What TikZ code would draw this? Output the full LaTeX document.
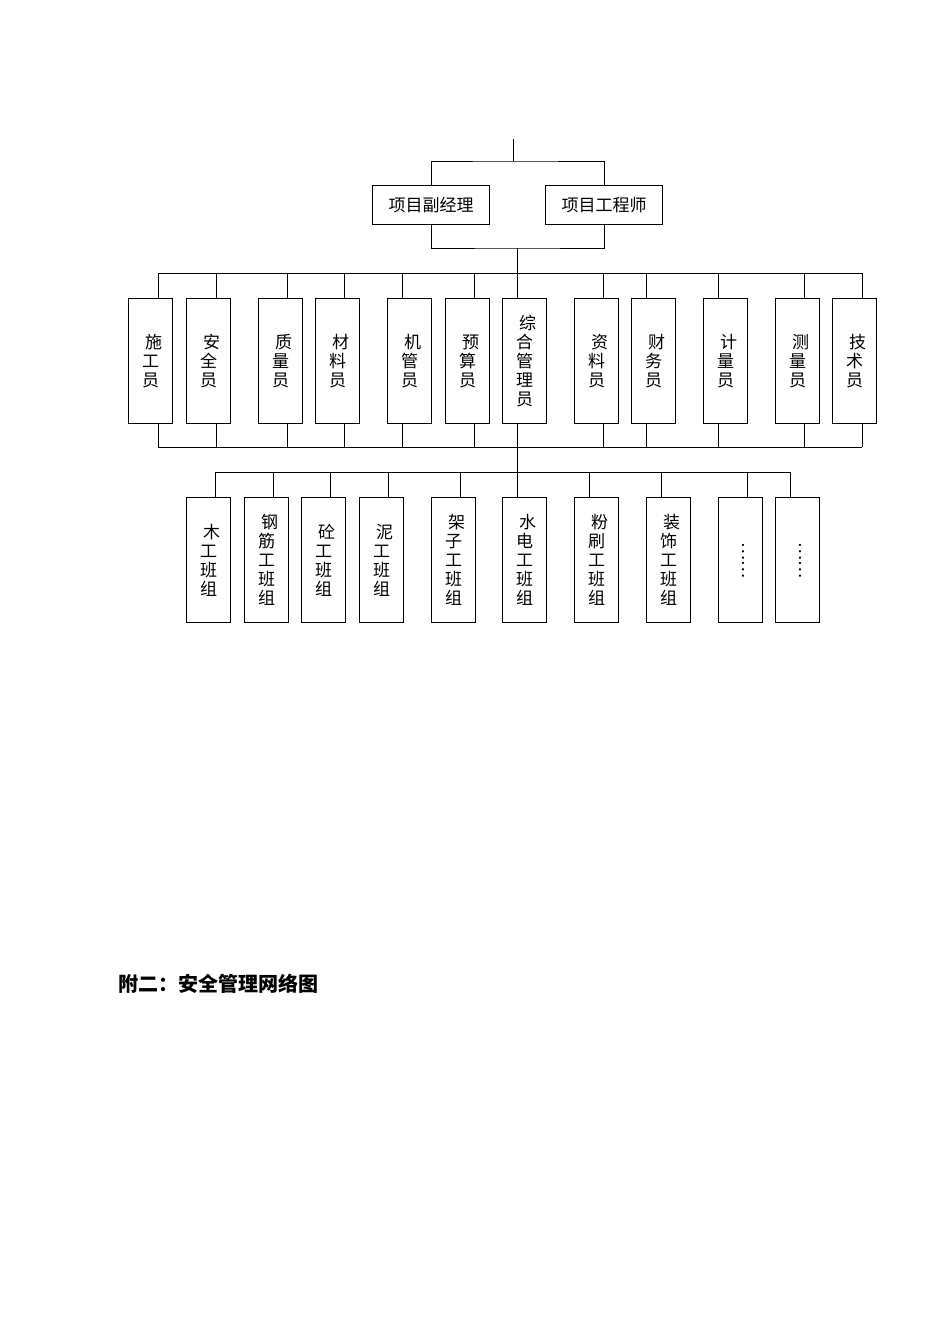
\documentclass[tikz,border=0pt]{standalone}
\usepackage{fontspec}
\newfontfamily\cjk{Noto Sans CJK SC}
\begin{document}
\begin{tikzpicture}[x=1pt,y=-1pt,line width=1pt,
  hbox/.style={draw,minimum width=117pt,minimum height=39pt,inner sep=0pt,anchor=north west,font=\cjk\fontsize{17}{19}\selectfont},
  vbox/.style={draw,minimum width=44pt,minimum height=125pt,inner sep=0pt,anchor=north west,align=center,font=\cjk\fontsize{17}{19}\selectfont}]
\useasboundingbox (0,0) rectangle (950,1344);
\coordinate (top) at (513,139);
\coordinate (topj) at (513,161);
\node[hbox] (fj) at (372,185) {项目副经理};
\node[hbox] (gcs) at (545,185) {项目工程师};
\draw (top) -- (topj);
\draw (fj.north) |- (topj) -| (gcs.north);
\coordinate (mid) at (517,248);
\draw (fj.south) |- (mid) -| (gcs.south);
\coordinate (b1) at (517,273);
\draw (mid) -- (b1);
\draw (158,273) -- (862,273);
\draw (158,447) -- (862,447);
\foreach \n/\l/\c/\t in {a/128/158/施\\工\\员, b/186/216/安\\全\\员, c/258/287/质\\量\\员, d/315/344/材\\料\\员, e/387/402/机\\管\\员, f/445/474/预\\算\\员, g/502/517/综\\合\\管\\理\\员, h/574/603/资\\料\\员, i/631/646/财\\务\\员, j/703/718/计\\量\\员, k/775/804/测\\量\\员, l/832/862/技\\术\\员}{
  \node[vbox] (r\n) at (\l,298) {\hspace*{6pt}\t};
  \draw (\c,273) -- (r\n.north -| \c,0);
  \draw (r\n.south -| \c,0) -- (\c,447);
}
\draw (rg.south) ++(0,0) (517,447) -- (517,472);
\draw (215,472) -- (790,472);
\foreach \n/\l/\c/\t in {a/186/215/木\\工\\班\\组, b/244/273/钢\\筋\\工\\班\\组, c/301/330/砼\\工\\班\\组, d/359/388/泥\\工\\班\\组, e/431/460/架\\子\\工\\班\\组, f/502/517/水\\电\\工\\班\\组, g/574/589/粉\\刷\\工\\班\\组, h/646/661/装\\饰\\工\\班\\组, i/718/747/\rotatebox{-90}{……}, j/775/790/\rotatebox{-90}{……}}{
  \node[vbox] (s\n) at (\l,497) {\hspace*{6pt}\t};
  \draw (\c,472) -- (s\n.north -| \c,0);
}
\node[anchor=west,font=\cjk\bfseries\fontsize{20}{22}\selectfont] (title) at (115,984) {附二：安全管理网络图};
\end{tikzpicture}
\end{document}
